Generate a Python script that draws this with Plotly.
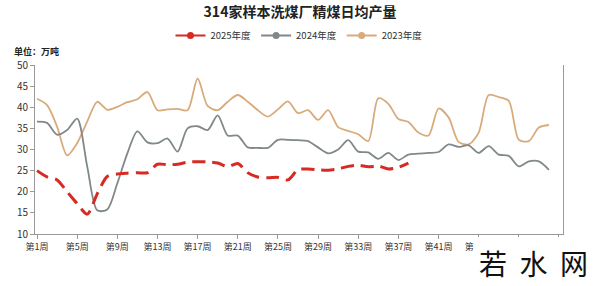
import plotly.graph_objects as go

weeks = list(range(1, 53))
tick_weeks = list(range(1, 54, 4))
tick_labels = [f"第{k}周" for k in tick_weeks]

y2023 = [42.0, 40.5, 35.4, 28.6, 31.5, 36.6, 41.3, 39.4, 40.1, 41.2,
         41.9, 43.6, 39.3, 39.5, 39.6, 39.3, 46.8, 40.3, 39.3, 41.3,
         42.9, 41.3, 39.3, 37.8, 39.5, 41.4, 38.6, 39.3, 37.0, 39.3,
         35.3, 34.4, 33.6, 32.0, 42.1, 40.8, 37.2, 36.5, 34.0, 33.3,
         39.7, 37.6, 31.8, 31.2, 34.0, 42.9, 42.4, 41.5, 32.3, 32.0,
         35.2, 35.8]
y2024 = [36.6, 36.3, 33.5, 34.6, 37.3, 26.0, 15.6, 15.8, 22.0, 29.1,
         34.3, 31.7, 31.5, 32.6, 29.5, 35.0, 35.5, 34.6, 38.1, 33.3,
         33.3, 30.5, 30.4, 30.4, 32.3, 32.3, 32.2, 32.0, 30.5, 29.1,
         30.0, 32.2, 29.5, 29.3, 27.8, 29.2, 27.5, 28.8, 29.0, 29.2,
         29.4, 31.2, 30.6, 31.0, 29.2, 30.8, 28.8, 28.5, 26.0, 27.2,
         27.2, 25.2]
y2025 = [25.0, 23.5, 22.8, 20.0, 17.2, 14.7, 19.5, 23.6, 24.2, 24.4,
         24.5, 24.5, 26.5, 26.4, 26.5, 27.0, 27.1, 27.1, 26.8, 25.9,
         26.7, 24.5, 23.5, 23.3, 23.4, 22.8, 25.2, 25.4, 25.2, 25.1,
         25.4, 26.0, 26.3, 25.9, 26.1, 25.4, 25.8, 26.8]

names = ["2025年度", "2024年度", "2023年度"]
colors = ["#d62a22", "#80888a", "#d8ab7c"]

fig = go.Figure()
fig.add_trace(go.Scatter(x=weeks, y=y2023, mode="lines", showlegend=False,
                         line=dict(color=colors[2], width=1.8, shape="spline", smoothing=0.8)))
fig.add_trace(go.Scatter(x=weeks, y=y2024, mode="lines", showlegend=False,
                         line=dict(color=colors[1], width=1.8, shape="spline", smoothing=0.8)))
fig.add_trace(go.Scatter(x=weeks[:len(y2025)], y=y2025, mode="lines", showlegend=False,
                         line=dict(color=colors[0], width=3, dash="13px,7px",
                                   shape="spline", smoothing=0.8)))
# legend entries
for n, c in zip(names, colors):
    fig.add_trace(go.Scatter(x=[None], y=[None], mode="lines+markers", name=n,
                             line=dict(color=c, width=2),
                             marker=dict(color=c, size=7)))

fig.update_layout(
    width=600, height=286,
    margin=dict(l=35, r=37, t=65, b=52, autoexpand=False),
    paper_bgcolor="white", plot_bgcolor="white",
    font=dict(family="Noto Sans CJK SC", color="#333"),
    title=dict(text="<b>314家样本洗煤厂精煤日均产量</b>", x=0.5, xanchor="center",
               y=0.957, yanchor="middle", font=dict(size=14, color="#222")),
    legend=dict(orientation="h", x=0.5, xanchor="center", y=1.175,
                yanchor="middle", font=dict(size=9.5, color="#333"),
                itemwidth=30, tracegroupgap=0),
    xaxis=dict(range=[0.8, 53.4], tickvals=tick_weeks, ticktext=tick_labels,
               showgrid=False, zeroline=False, showline=True, linecolor="#999",
               linewidth=1, ticks="outside", ticklen=4, tickcolor="#999",
               tickfont=dict(size=9, color="#333")),
    yaxis=dict(range=[10, 50], dtick=5, showgrid=False, zeroline=False,
               showline=True, linecolor="#999", linewidth=1, mirror=True,
               ticks="outside", ticklen=4, tickcolor="#999",
               tickfont=dict(size=10, color="#333")),
    annotations=[
        dict(text="<b>单位：万吨</b>", xref="paper", yref="paper",
             x=-0.044, y=1.08, xanchor="left", yanchor="middle",
             showarrow=False, font=dict(size=9, color="#222")),
        dict(text="若  水  网", xref="paper", yref="paper",
             x=0.945, y=-0.17, xanchor="center", yanchor="middle",
             showarrow=False, font=dict(size=28, color="#111")),
    ],
    shapes=[
        dict(type="rect", xref="paper", yref="paper", x0=0.831, x1=1.08,
             y0=-0.32, y1=-0.018, fillcolor="white", line=dict(width=0),
             layer="above"),
    ],
)

fig.write_html("out.html")
